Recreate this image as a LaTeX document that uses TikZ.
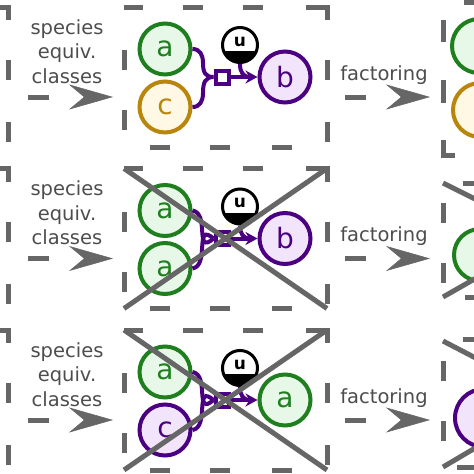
\documentclass[tikz,border=0pt]{standalone}
\usepackage{fontspec}
\setmainfont{DejaVu Sans}
\usetikzlibrary{arrows.meta}
\definecolor{gline}{HTML}{666666}
\definecolor{gtext}{HTML}{4D4D4D}
\definecolor{grn}{HTML}{1F7F1F}
\definecolor{grnfill}{HTML}{E8F8E8}
\definecolor{ylw}{HTML}{B8860B}
\definecolor{ylwfill}{HTML}{FFF8E4}
\definecolor{prp}{HTML}{4B0082}
\definecolor{prpfill}{HTML}{F2E4FA}
\tikzset{
  boxdash/.style={draw=gline, line width=5pt},
  crossline/.style={draw=gline, line width=5pt},
  species/.style={circle, line width=4pt, minimum size=51pt, inner sep=0pt, font=\fontsize{28}{28}\selectfont},
  sgreen/.style={species, draw=grn, fill=grnfill, text=grn},
  syellow/.style={species, draw=ylw, fill=ylwfill, text=ylw},
  spurple/.style={species, draw=prp, fill=prpfill, text=prp},
  rxn/.style={draw=prp, fill=white, line width=4pt, minimum size=13pt, inner sep=0pt},
  unode/.style={circle, draw=black, line width=3pt, minimum size=35pt, inner sep=0pt, fill=white,
    font=\bfseries\fontsize{17}{17}\selectfont,
    path picture={\fill[black] (path picture bounding box.south west) rectangle ([yshift=-6pt]path picture bounding box.east);}},
  wire/.style={draw=prp, line width=4pt},
  wirearrow/.style={wire, -{Stealth[length=12pt,width=13pt]}},
  lbl/.style={text=gtext, font=\fontsize{19.5}{19.5}\selectfont, inner sep=0pt, anchor=base},
  bigarrow/.style={draw=gline, line width=5pt, dash pattern=on 21pt off 200pt,
    -{Stealth[length=44pt,width=25pt,inset=15pt,line width=0.5pt]}},
}
\newcommand\midboxdashes{%
  \draw[boxdash] (124,7)--(143,7) (183,7)--(203,7) (243,7)--(263,7) (306,7)--(327,7)--(327,20)
    (327,60)--(327,80) (327,122)--(327,142)
    (292,147)--(272,147) (230,147)--(210,147) (170,147)--(150,147)
    (124,130)--(124,110) (124,70)--(124,50);}
\begin{document}
\begin{tikzpicture}[x=1pt,y=-1pt]
\useasboundingbox (0,0) rectangle (474,474);
\fill[white] (0,0) rectangle (474,474);
\clip (0,0) rectangle (474,474);

% ================= Row 1 =================
\begin{scope}
  \begin{scope}[shift={(-319,0)}]\midboxdashes\end{scope}
  \midboxdashes
  \draw[boxdash] (443,20)--(443,42) (443,80)--(443,103) (443,140)--(443,155)--(455,155) (464,2)--(480,2);
  \node[lbl] (sp1) at (67,34) {species};
  \node[lbl] (eq1) at (67,58.5) {equiv.};
  \node[lbl] (cl1) at (67,83) {classes};
  \node[lbl] (fa1) at (384,80) {factoring};
  \coordinate (L1s) at (28,97); \coordinate (L1e) at (113,97);
  \coordinate (R1s) at (345,97); \coordinate (R1e) at (430,97);
  \draw[bigarrow] (L1s) -- (L1e);
  \draw[bigarrow] (R1s) -- (R1e);
  \node[sgreen] (a1) at (165,49) {a};
  \node[syellow] (c1) at (165,107) {c};
  \node[rxn] (r1) at (222,77) {};
  \node[spurple] (b1) at (285,77) {b};
  \node[unode] (u1) at (240,45) {\raisebox{-1pt}[0pt][0pt]{u}};
  \coordinate (j1) at (250,77);
  \draw[wire] (a1.east) .. controls (200,49) and (203,55) .. (203,63) .. controls (203,72) and (205,77) .. (r1.west);
  \draw[wire] (c1.east) .. controls (200,107) and (203,101) .. (203,93) .. controls (203,83) and (205,77) .. (r1.west);
  \draw[wire] (u1.south) .. controls (240,72) and (243,77) .. (j1);
  \draw[wirearrow] (r1.east) -- (b1.west);
  \node[sgreen, minimum size=54pt] (ra1) at (479,46) {};
  \node[syellow, minimum size=54pt] (rc1) at (480,110) {};
\end{scope}

% ================= Row 2 =================
\begin{scope}[shift={(0,161.5)}]
  \begin{scope}[shift={(-319,0)}]\midboxdashes\end{scope}
  \midboxdashes
  \draw[boxdash] (443,41.5)--(443,61.5) (443,101.5)--(443,121.5) (463,21.5)--(480,21.5) (465,135.5)--(480,135.5);
  \node[lbl] (sp2) at (67,34) {species};
  \node[lbl] (eq2) at (67,58.5) {equiv.};
  \node[lbl] (cl2) at (67,83) {classes};
  \node[lbl] (fa2) at (384,80) {factoring};
  \coordinate (L2s) at (28,97); \coordinate (L2e) at (113,97);
  \coordinate (R2s) at (345,97); \coordinate (R2e) at (430,97);
  \draw[bigarrow] (L2s) -- (L2e);
  \draw[bigarrow] (R2s) -- (R2e);
  \node[sgreen] (a2) at (165,49) {a};
  \node[sgreen] (d2) at (165,107) {a};
  \node[rxn] (r2) at (222,77) {};
  \node[spurple] (b2) at (285,77) {b};
  \node[unode] (u2) at (240,45) {\raisebox{-1pt}[0pt][0pt]{u}};
  \coordinate (j2) at (250,77);
  \draw[wire] (a2.east) .. controls (210,52) and (194,94) .. (r2.west);
  \draw[wire] (d2.east) .. controls (210,104) and (194,60) .. (r2.west);
  \draw[wire] (u2.south) .. controls (240,72) and (243,77) .. (j2);
  \draw[wirearrow] (r2.east) -- (b2.west);
  \node[sgreen, minimum size=52pt] (ra2) at (480,93.5) {};
  \draw[crossline] (124,7) -- (327,147);
  \draw[crossline] (124,147) -- (327,7);
  \draw[crossline] (443,21.5) -- (543,71.5);
  \draw[crossline] (443,135.5) -- (543,78.5);
\end{scope}

% ================= Row 3 =================
\begin{scope}[shift={(0,323)}]
  \begin{scope}[shift={(-319,0)}]\midboxdashes\end{scope}
  \midboxdashes
  \draw[boxdash] (443,38)--(443,58) (443,98)--(443,118) (463,16)--(480,16) (457,144)--(480,144);
  \node[lbl] (sp3) at (67,34) {species};
  \node[lbl] (eq3) at (67,58.5) {equiv.};
  \node[lbl] (cl3) at (67,83) {classes};
  \node[lbl] (fa3) at (384,80) {factoring};
  \coordinate (L3s) at (28,97); \coordinate (L3e) at (113,97);
  \coordinate (R3s) at (345,97); \coordinate (R3e) at (430,97);
  \draw[bigarrow] (L3s) -- (L3e);
  \draw[bigarrow] (R3s) -- (R3e);
  \node[sgreen] (a3) at (165,49) {a};
  \node[spurple] (c3) at (165,107) {c};
  \node[rxn] (r3) at (222,77) {};
  \node[sgreen] (b3) at (285,77) {a};
  \node[unode] (u3) at (240,45) {\raisebox{-1pt}[0pt][0pt]{u}};
  \coordinate (j3) at (250,77);
  \draw[wire] (a3.east) .. controls (210,52) and (194,94) .. (r3.west);
  \draw[wire] (c3.east) .. controls (210,104) and (194,60) .. (r3.west);
  \draw[wire] (u3.south) .. controls (240,72) and (243,77) .. (j3);
  \draw[wirearrow] (r3.east) -- (b3.west);
  \node[spurple, minimum size=58pt] (rc3) at (484,95) {};
  \draw[crossline] (124,7) -- (327,147);
  \draw[crossline] (124,147) -- (327,7);
  \draw[crossline] (443,18) -- (543,70);
  \draw[crossline] (443,144) -- (543,85);
\end{scope}
\end{tikzpicture}
\end{document}
